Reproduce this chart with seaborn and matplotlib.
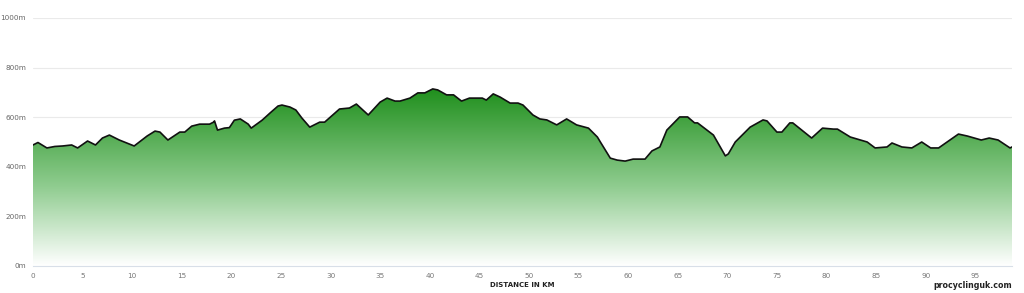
import numpy as np
import pandas as pd
import matplotlib
matplotlib.use("Agg")
import matplotlib.pyplot as plt
import seaborn as sns
from matplotlib.colors import LinearSegmentedColormap

# Profile data
distance_km = [0.0, 0.5, 1.4, 2.2, 3.0, 3.9, 4.5, 5.5, 6.3, 7.0, 7.7, 8.7, 9.7, 10.2,
               11.5, 12.3, 12.8, 13.6, 14.8, 15.3, 16.0, 16.8, 17.8, 18.2, 18.3, 18.6,
               19.3, 19.8, 20.3, 20.9, 21.7, 22.0, 23.1, 23.9, 24.7, 25.1, 25.9, 26.5,
               27.1, 27.9, 28.9, 29.4, 30.9, 31.9, 32.6, 33.8, 35.0, 35.7, 36.5, 37.0,
               38.0, 38.8, 39.5, 40.3, 40.8, 41.7, 42.4, 43.2, 44.0, 45.3, 45.7, 46.4,
               47.1, 48.1, 48.9, 49.4, 50.4, 51.1, 51.8, 52.8, 53.8, 54.8, 56.0, 56.9,
               57.2, 58.2, 58.9, 59.7, 60.5, 61.7, 62.4, 63.2, 63.9, 65.2, 66.0, 66.7,
               67.0, 68.6, 69.8, 70.1, 70.8, 72.3, 73.6, 74.0, 75.0, 75.5, 76.3, 76.6,
               78.5, 79.6, 80.7, 81.1, 82.4, 84.1, 84.9, 86.1, 86.6, 87.6, 88.6, 89.6,
               90.5, 91.3, 93.3, 94.2, 95.6, 96.4, 97.3, 98.5, 98.7]
elevation_m = [488, 498, 476, 482, 484, 488, 476, 504, 488, 516, 528, 508, 492, 484,
               524, 544, 540, 508, 540, 540, 564, 572, 572, 580, 585, 548,
               556, 558, 588, 593, 572, 556, 588, 617, 645, 649, 641, 629,
               597, 560, 580, 580, 633, 637, 653, 609, 661, 677, 665, 665,
               677, 698, 698, 714, 710, 690, 690, 665, 677, 677, 669, 694,
               681, 657, 657, 649, 609, 593, 589, 569, 593, 569, 556, 520,
               500, 435, 427, 423, 431, 431, 464, 480, 548, 601, 601, 577,
               577, 528, 444, 452, 500, 560, 589, 585, 540, 540, 577, 577,
               516, 556, 552, 552, 520, 500, 476, 480, 496, 480, 476, 500,
               476, 476, 532, 524, 508, 516, 508, 476, 480]
y_ticks = [0, 200, 400, 600, 800, 1000]
y_labels = ["0m", "200m", "400m", "600m", "800m", "1000m"]
x_ticks = list(range(0, 100, 5))

df = pd.DataFrame({"distance": distance_km, "elevation": elevation_m})

sns.set_theme(style="white")
plt.rcParams['font.family'] = ['DejaVu Sans']

fig = plt.figure(figsize=(10.24, 2.93), dpi=100)
ax = fig.add_axes([33/1024, 1-266/293, (1012-33)/1024, (266-18)/293])

xmax = max(distance_km)
ax.set_xlim(0, xmax)
ax.set_ylim(0, 1000)

# gradient fill clipped to area
top = max(elevation_m)
cmap = LinearSegmentedColormap.from_list("g", [(0, "#ffffff"), (0.45, "#8fcc8f"), (1.0, "#1f8f1c")])
grad = np.linspace(0, 1, 256).reshape(-1, 1)
im = ax.imshow(grad, extent=[0, xmax, 0, top], origin="lower", aspect="auto",
               cmap=cmap, zorder=1)
poly = ax.fill_between(df["distance"], df["elevation"], 0, color="none", lw=0)
path = poly.get_paths()[0]
im.set_clip_path(path, transform=ax.transData)

sns.lineplot(data=df, x="distance", y="elevation", ax=ax, color="#111111",
             linewidth=1.2, zorder=3)

ax.set_yticks(y_ticks)
ax.set_yticklabels(y_labels)
ax.set_xticks(x_ticks)
ax.tick_params(axis="both", labelsize=5.2, colors="#777777", length=0)
ax.tick_params(axis="x", pad=5)
ax.tick_params(axis="y", pad=5)
for t in ax.get_yticklabels():
    t.set_color("#666666")
ax.grid(axis="y", color="#eaeaea", linewidth=0.8, zorder=0)
ax.set_axisbelow(True)
for s in ["top", "right", "left"]:
    ax.spines[s].set_visible(False)
ax.spines["bottom"].set_color("#d8dfe8")
ax.spines["bottom"].set_linewidth(0.8)
ax.set_xlabel("DISTANCE IN KM", fontsize=5, fontweight="bold", color="#222222", labelpad=2)
ax.set_ylabel("")

fig.text(1012/1024, 1-285/293, "procyclinguk.com", ha="right", va="center",
         fontsize=5.7, fontweight="bold", color="#222222")

fig.savefig("out.png", dpi=100, facecolor="white")
